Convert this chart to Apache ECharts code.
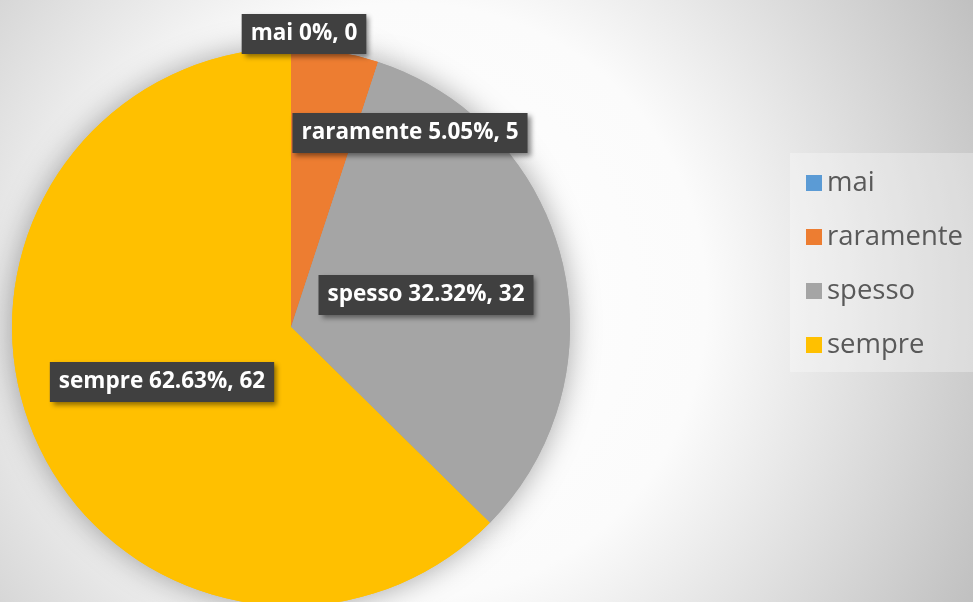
<!DOCTYPE html>
<html>
<head>
<meta charset="utf-8">
<script src="https://cdn.jsdelivr.net/npm/echarts@6/dist/echarts.min.js"></script>
<style>
html,body{margin:0;padding:0;}
#chart{width:973px;height:602px;}
</style>
</head>
<body>
<div id="chart"></div>
<script>
const categories = ['mai', 'raramente', 'spesso', 'sempre'];
const values = [0, 5, 32, 62];
const colors = ['#5B9BD5', '#ED7D31', '#A5A5A5', '#FFC000'];

// label box centres (layout only)
const labelPos = [[304, 34], [410, 133], [426, 295], [162, 382]];

const data = categories.map((c, i) => ({ name: c, value: values[i], itemStyle: { color: colors[i] } }));

const chart = echarts.init(document.getElementById('chart'));
chart.setOption({
  backgroundColor: {
    type: 'radial', x: 0.42, y: 0.5, r: 1.1,
    colorStops: [
      { offset: 0, color: '#ffffff' },
      { offset: 0.45, color: '#fbfbfb' },
      { offset: 1, color: '#bcbcbc' }
    ]
  },
  legend: {
    orient: 'vertical',
    left: 790, top: 153,
    padding: [15, 12, 12, 16],
    backgroundColor: 'rgba(255,255,255,0.3)',
    itemWidth: 16, itemHeight: 16,
    itemGap: 24,
    icon: 'rect',
    data: categories,
    textStyle: { fontFamily: 'Open Sans', fontSize: 27.5, lineHeight: 30, color: '#595959' }
  },
  series: [
    {
      type: 'pie',
      silent: true,
      z: 1,
      center: [291, 327],
      radius: 279,
      startAngle: 90,
      clockwise: true,
      label: { show: false },
      labelLine: { show: false },
      itemStyle: { shadowBlur: 30, shadowColor: 'rgba(0,0,0,0.35)' },
      emphasis: { disabled: true },
      data: data
    },
    {
      type: 'pie',
      z: 2,
      center: [291, 327],
      radius: 279,
      startAngle: 90,
      clockwise: true,
      avoidLabelOverlap: false,
      itemStyle: { borderWidth: 0 },
      labelLine: { show: false },
      label: {
        show: true,
        formatter: p => p.name + ' ' + p.percent.toFixed(2).replace(/\.00$/, '') + '%, ' + p.value,
        fontFamily: 'Open Sans',
        fontWeight: 'bold',
        fontSize: 22.5,
        lineHeight: 28,
        color: '#ffffff',
        backgroundColor: '#404040',
        padding: [6, 9, 6, 9],
        shadowColor: 'rgba(0,0,0,0.45)',
        shadowBlur: 5,
        shadowOffsetX: 3,
        shadowOffsetY: 3
      },
      labelLayout: function (params) {
        const p = labelPos[params.dataIndex];
        return { x: p[0], y: p[1], align: 'center', verticalAlign: 'middle' };
      },
      data: data
    }
  ]
});
</script>
</body>
</html>
